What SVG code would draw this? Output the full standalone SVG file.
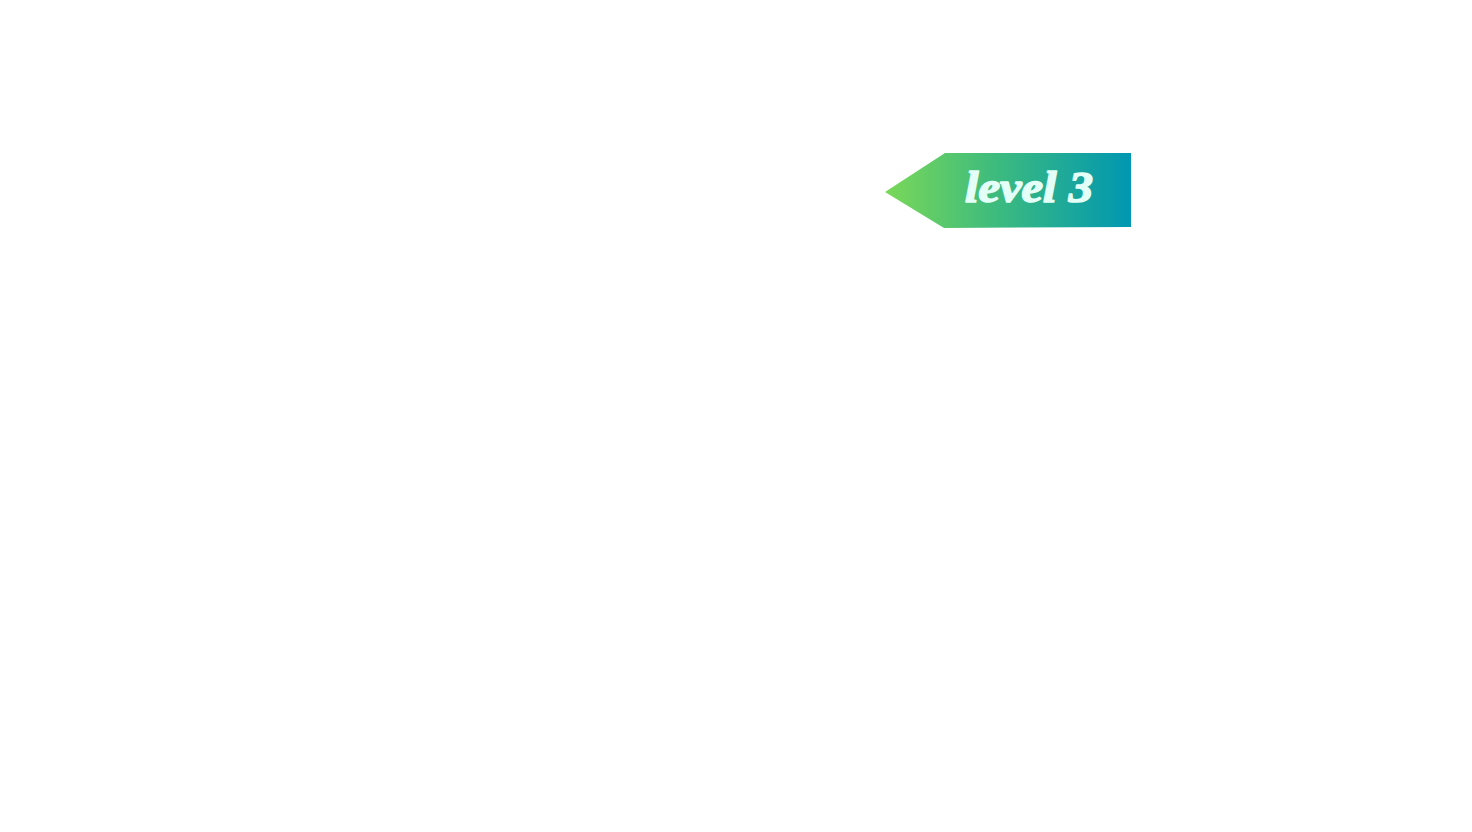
<svg xmlns="http://www.w3.org/2000/svg" width="1472" height="832" viewBox="0 0 1472 832">
<defs>
<linearGradient id="g" x1="885" y1="0" x2="1131" y2="0" gradientUnits="userSpaceOnUse">
<stop offset="0" stop-color="#7ad858"/>
<stop offset="0.45" stop-color="#3dbb7e"/>
<stop offset="1" stop-color="#0097b2"/>
</linearGradient>
<style>.lbl{font-family:"Liberation Serif",serif;font-weight:bold;font-style:italic;font-size:44px;fill:#e3fff7;stroke:#e3fff7;stroke-width:1.6px;stroke-linejoin:round}</style>
</defs>
<rect width="1472" height="832" fill="#ffffff"/>
<g id="level3">
<polygon points="945,153 1131,153 1131,227 944,228 885,192" fill="url(#g)"/>
<text class="lbl" x="965" y="202" textLength="128" lengthAdjust="spacingAndGlyphs">level 3</text>
</g>
<g id="connectors"/>
</svg>
